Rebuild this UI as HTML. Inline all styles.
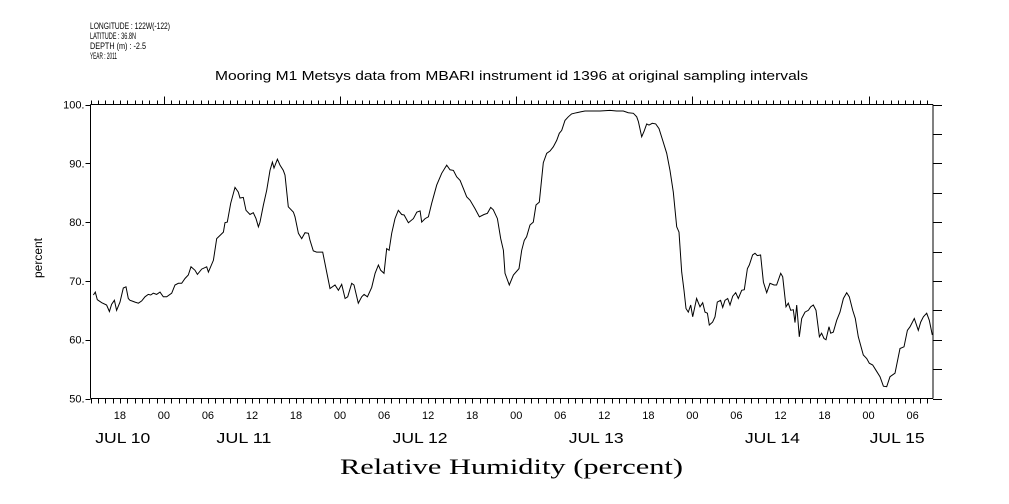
<!DOCTYPE html>
<html><head><meta charset="utf-8"><style>
body{margin:0;background:#fff}
svg{display:block}
text{font-family:"Liberation Sans",sans-serif;fill:#000}
</style></head><body>
<svg width="1009" height="504" viewBox="0 0 1009 504" id="chart">
<g font-size="9">
<text x="90" y="29" textLength="80" lengthAdjust="spacingAndGlyphs">LONGITUDE : 122W(-122)</text>
<text x="90" y="39" textLength="46" lengthAdjust="spacingAndGlyphs">LATITUDE : 36.8N</text>
<text x="90" y="49" textLength="56" lengthAdjust="spacingAndGlyphs">DEPTH (m) : -2.5</text>
<text x="90" y="59" textLength="27" lengthAdjust="spacingAndGlyphs">YEAR : 2011</text>
</g>
<text x="215" y="80" font-size="12.5" textLength="593" lengthAdjust="spacingAndGlyphs">Mooring M1 Metsys data from MBARI instrument id 1396 at original sampling intervals</text>
<text x="0" y="0" font-size="12" text-anchor="middle" transform="translate(42,258) rotate(-90)">percent</text>
<text x="340" y="474" font-size="22" textLength="343" lengthAdjust="spacingAndGlyphs" style="font-family:'Liberation Serif',serif">Relative Humidity (percent)</text>
<g id="axes"></g>
<g id="marks"></g>
</svg>
<script>
const hours=[0.39,0.66,0.93,1.52,2.2,2.57,2.88,3.25,3.56,4.02,4.47,4.84,5.15,5.38,5.61,6.06,6.52,6.97,7.43,7.88,8.2,8.56,9.01,9.47,9.92,10.38,11.06,11.51,11.97,12.42,12.87,13.33,13.69,14.24,14.56,15.15,15.83,16.06,16.74,17.19,18.1,18.33,18.64,19.1,19.69,20.14,20.37,20.82,21.18,21.73,22.18,22.55,22.87,23.09,23.55,24.0,24.46,24.78,25.0,25.46,25.82,26.27,26.5,26.95,27.64,27.86,28.32,28.77,29.23,29.68,29.9,30.36,30.81,31.63,32.18,32.63,33.31,33.77,34.22,34.68,35.04,35.58,35.9,36.49,36.95,37.27,37.72,38.31,38.77,39.22,39.54,39.99,40.36,40.68,41.04,41.49,41.94,42.4,42.72,43.31,43.99,44.45,44.9,45.12,45.58,46.03,46.49,47.17,47.85,48.53,48.98,49.44,49.89,50.35,50.8,51.25,51.71,52.39,52.98,53.61,54.07,54.52,54.88,55.43,55.88,56.25,56.47,57.06,57.61,58.38,58.74,59.1,59.42,59.88,60.33,60.69,61.15,61.69,62.15,62.6,63.05,63.51,63.87,
64.19,64.65,65.10,65.55,66.23,66.92,67.37,68.51,69.41,70.78,71.68,72.59,73.27,73.96,74.41,74.64,75.09,75.41,75.77,76.09,76.54,77.00,77.45,77.95,78.50,78.95,79.40,79.86,80.18,80.54,80.86,81.13,81.45,81.77,82.04,82.58,83.04,83.40,83.72,84.04,84.31,84.76,85.08,85.40,85.85,86.13,86.44,86.81,87.13,87.49,87.90,88.26,88.72,89.08,89.49,89.76,90.21,90.53,90.85,91.30,91.67,92.12,92.57,93.12,93.48,94.03,94.30,94.75,95.07,95.39,95.75,95.98,96.21,96.57,96.89,97.34,97.80,98.12,98.48,98.84,99.30,99.61,99.93,100.20,100.61,100.84,101.20,101.66,102.11,102.57,103.02,103.38,103.84,104.20,104.61,105.29,105.75,106.11,106.57,107.02,107.56,108.02,108.47,108.92,109.60,110.29,110.83,111.29,111.65,112.24,112.78,113.10,113.47,113.92,114.28,114.69];
const humidity=[67.6,68.1,66.8,66.3,65.9,64.8,66.0,66.7,65.0,66.4,68.8,69.0,67.0,66.7,66.6,66.4,66.2,66.6,67.3,67.7,67.6,67.9,67.7,68.1,67.3,67.3,67.9,69.3,69.6,69.6,70.4,71.0,72.4,71.8,71.1,72.0,72.4,71.5,73.5,77.2,78.3,79.9,80.0,83.2,85.9,85.1,84.1,84.2,82.0,81.3,81.6,80.6,79.2,80.0,82.9,85.4,88.8,90.2,89.2,90.7,89.7,88.8,88.0,82.6,81.7,80.9,78.1,77.2,78.2,78.1,76.9,75.1,74.9,74.9,71.5,68.7,69.3,68.4,69.4,67.0,67.3,69.6,69.3,66.2,67.3,67.7,67.3,68.9,71.3,72.7,71.8,71.3,75.5,75.2,78.1,80.6,82.0,81.3,81.2,79.9,80.6,81.7,81.9,80.0,80.6,80.9,83.2,86.3,88.3,89.7,88.9,88.8,87.7,87.1,85.7,84.3,83.7,82.3,80.9,81.3,81.5,82.5,82.1,80.6,77.2,75.2,71.3,69.3,71.0,72.1,75.2,76.9,77.5,79.5,80.0,82.9,83.4,90.1,91.7,92.1,92.8,93.9,95.1,
95.6,97.3,97.9,98.4,98.6,98.8,98.9,98.9,98.9,99.0,98.9,98.9,98.6,98.5,97.9,97.1,94.5,95.4,96.7,96.5,96.8,96.7,95.9,93.9,91.7,88.8,85.1,79.2,78.3,71.5,68.4,65.3,64.7,65.9,63.9,67.0,65.6,66.3,64.7,64.5,62.5,63.0,63.9,66.4,66.7,65.5,66.7,67.0,65.9,67.4,68.0,67.0,68.4,68.5,72.1,72.7,74.4,74.7,74.3,74.4,69.8,68.0,69.6,69.3,69.3,71.3,70.7,65.6,66.2,65.0,65.1,62.9,65.9,60.5,63.6,64.7,65.0,65.6,65.9,65.0,60.5,61.1,60.2,60.0,62.2,61.1,61.3,63.3,64.7,67.0,68.0,67.3,65.0,63.6,60.5,57.4,56.8,56.0,55.7,54.8,53.7,52.1,52.0,53.7,54.3,58.5,58.8,61.6,62.2,63.6,61.6,63.0,63.9,64.5,63.3,60.8];
const yTicks=[50,60,70,80,90,100];
const hourLabels=["18","00","06","12","18","00","06","12","18","00","06","12","18","00","06","12","18","00","06"];
const dateLabels=["JUL 10","JUL 11","JUL 12","JUL 13","JUL 14","JUL 15"];
const dateHours=[4.4,20.9,44.9,68.9,92.9,109.9];

const L=90.5,R=933,T=104.5,B=398.5,H0=0,H1=(R-L)/7.34;
const xs=h=>L+(h-H0)/(H1-H0)*(R-L);
const ys=v=>B-(v-50)/50*(B-T);
const NS="http://www.w3.org/2000/svg";
const ax=document.getElementById('axes'),mk=document.getElementById('marks');
function mk1(tag,at,par){const e=document.createElementNS(NS,tag);for(const k in at)e.setAttribute(k,at[k]);par.appendChild(e);return e;}
function line(x1,y1,x2,y2,name){const e=mk1('line',{x1,y1,x2,y2,stroke:'#000','stroke-width':1},ax);

}
line(L,T,R,T,'top-axis');line(L,B,R,B,'x-axis');line(L,T,L,B,'y-axis');line(R,T,R,B,'right-axis');
for(let h=0;h<=Math.floor(H1);h++){const x=Math.round(xs(h))+0.5;const hd=(h+14)%24;
 line(x,T,x,T-(hd===0?8:4),'top-tick');line(x,B,x,B+5,'x-tick');}
for(let v=50;v<=100;v+=5){const y=Math.round(ys(v))+0.5;line(L-(v%10===0?5:0),y,L,y,'y-tick');line(R,y,R+9,y,'right-tick');}
yTicks.forEach(v=>{const t=mk1('text',{x:L-6,y:ys(v)+4,'font-size':11,'text-anchor':'end'},ax);t.textContent=v+'.';

});
hourLabels.forEach((s,i)=>{const h=4+i*6;const t=mk1('text',{x:xs(h),y:419,'font-size':11,'text-anchor':'middle'},ax);t.textContent=s;

});
dateLabels.forEach((s,i)=>{const t=mk1('text',{x:xs(dateHours[i])-27.5,y:443,'font-size':15,textLength:55,lengthAdjust:'spacingAndGlyphs'},ax);t.textContent=s;

});
let d='';hours.forEach((h,i)=>{d+=(i?'L':'M')+xs(h).toFixed(1)+' '+ys(humidity[i]).toFixed(1);});
const p=mk1('path',{d,fill:'none',stroke:'#000','stroke-width':1},mk);


</script>
</body></html>
